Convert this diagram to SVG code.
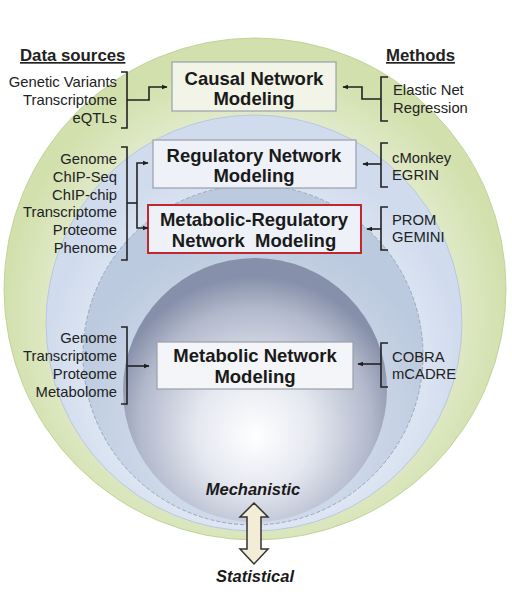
<svg xmlns="http://www.w3.org/2000/svg" width="512" height="600" viewBox="0 0 512 600">
<defs>
<radialGradient id="gGreen" cx="0.5" cy="0.55" r="0.5">
<stop offset="0.7" stop-color="#e7eed5"/>
<stop offset="1" stop-color="#d2e0ad"/>
</radialGradient>
<radialGradient id="gBlue1" cx="0.5" cy="0.6" r="0.5">
<stop offset="0.6" stop-color="#e8eef6"/>
<stop offset="1" stop-color="#d0dbed"/>
</radialGradient>
<radialGradient id="gBlue2" cx="0.5" cy="0.7" r="0.55">
<stop offset="0.3" stop-color="#d9e2ef"/>
<stop offset="1" stop-color="#bccadf"/>
</radialGradient>
<radialGradient id="gSphere" cx="0.5" cy="0.62" r="0.55" fx="0.5" fy="0.68">
<stop offset="0" stop-color="#ffffff"/>
<stop offset="0.4" stop-color="#e5e8f0"/>
<stop offset="0.8" stop-color="#b2b9cc"/>
<stop offset="1" stop-color="#8790aa"/>
</radialGradient>
<marker id="ah" viewBox="0 0 10 10" refX="9" refY="5" markerWidth="6" markerHeight="6" markerUnits="userSpaceOnUse" orient="auto">
<path d="M0,1 L10,5 L0,9 Z" fill="#1e1e1e"/>
</marker>
</defs>
<style>
.t{font-family:"Liberation Sans",Arial,sans-serif;font-size:14.8px;fill:#222;}
.r{text-anchor:end;}
.h{font-family:"Liberation Sans",Arial,sans-serif;font-size:16.8px;font-weight:bold;fill:#222;text-decoration:underline;}
.b{font-family:"Liberation Sans",Arial,sans-serif;font-size:18.5px;font-weight:bold;fill:#1a1a1a;text-anchor:middle;}
.i{font-family:"Liberation Sans",Arial,sans-serif;font-size:16.5px;font-weight:bold;font-style:italic;fill:#1a1a1a;text-anchor:middle;}
.br{fill:none;stroke:#222;stroke-width:1.6;}
.c{fill:none;stroke:#222;stroke-width:1.6;marker-end:url(#ah);}
.box{stroke:#9a9fa8;stroke-width:1.2;}
</style>
<rect width="512" height="600" fill="#ffffff"/>
<g id="layers">
<circle cx="255" cy="289" r="251" fill="url(#gGreen)" stroke="#c3d49c" stroke-width="1"/>
<circle cx="254" cy="323" r="208" fill="url(#gBlue1)" stroke="#b8c8df" stroke-width="1"/>
<circle cx="253" cy="355" r="170" fill="url(#gBlue2)" stroke="#9aa8be" stroke-width="1" stroke-dasharray="4 2"/>
<circle cx="255" cy="390" r="132" fill="url(#gSphere)"/>
</g>
<g id="headers">
<text class="h" x="20" y="61">Data sources</text>
<text class="h" x="386" y="61">Methods</text>
</g>
<g id="causal">
<rect class="box" x="172" y="62" width="164" height="49" fill="#f1f4e6"/>
<text class="b" x="254" y="85">Causal Network</text>
<text class="b" x="254" y="105">Modeling</text>
</g>
<g id="regulatory">
<rect class="box" x="153" y="140" width="203" height="48" fill="#eef2f8"/>
<text class="b" x="254" y="162">Regulatory Network</text>
<text class="b" x="254" y="182">Modeling</text>
</g>
<g id="metabolic-regulatory">
<rect x="148" y="205" width="213" height="48" fill="#eef2f8" stroke="#c1272d" stroke-width="2"/>
<text class="b" x="254" y="226">Metabolic-Regulatory</text>
<text class="b" x="254" y="247" xml:space="preserve">Network  Modeling</text>
</g>
<g id="metabolic">
<rect class="box" x="157" y="342" width="196" height="47" fill="#f4f5f8"/>
<text class="b" x="255" y="362">Metabolic Network</text>
<text class="b" x="255" y="383">Modeling</text>
</g>
<g id="sources-causal">
<text class="t r" x="117" y="87">Genetic Variants</text>
<text class="t r" x="117" y="105">Transcriptome</text>
<text class="t r" x="117" y="123">eQTLs</text>
</g>
<g id="sources-regulatory">
<text class="t r" x="117" y="164">Genome</text>
<text class="t r" x="117" y="182">ChIP-Seq</text>
<text class="t r" x="117" y="200">ChIP-chip</text>
<text class="t r" x="117" y="217">Transcriptome</text>
<text class="t r" x="117" y="235">Proteome</text>
<text class="t r" x="117" y="253">Phenome</text>
</g>
<g id="sources-metabolic">
<text class="t r" x="117" y="343">Genome</text>
<text class="t r" x="117" y="361">Transcriptome</text>
<text class="t r" x="117" y="379">Proteome</text>
<text class="t r" x="117" y="397">Metabolome</text>
</g>
<g id="methods-causal">
<text class="t" x="393" y="95">Elastic Net</text>
<text class="t" x="393" y="113">Regression</text>
</g>
<g id="methods-regulatory">
<text class="t" x="392" y="163">cMonkey</text>
<text class="t" x="392" y="180">EGRIN</text>
</g>
<g id="methods-metreg">
<text class="t" x="392" y="225">PROM</text>
<text class="t" x="392" y="242">GEMINI</text>
</g>
<g id="methods-metabolic">
<text class="t" x="392" y="362">COBRA</text>
<text class="t" x="392" y="379">mCADRE</text>
</g>
<g id="connectors">
<path class="br" d="M121,72 H127 V128 H121"/>
<path class="c" d="M127,100 H149 V87 H167"/>
<path class="br" d="M388,77 H381 V121 H388"/>
<path class="c" d="M381,99 H362 V87 H343"/>
<path class="br" d="M121,147 H127 V260 H121"/>
<path class="br" d="M127,203 H137"/>
<path class="c" d="M137,203 V163 H148"/>
<path class="c" d="M137,203 V228 H148"/>
<path class="br" d="M388,143 H381 V187 H388"/>
<path class="c" d="M381,164 H363"/>
<path class="br" d="M388,207 H381 V250 H388"/>
<path class="c" d="M381,229 H367"/>
<path class="br" d="M121,327 H127 V404 H121"/>
<path class="c" d="M127,366 H149"/>
<path class="br" d="M388,343 H381 V387 H388"/>
<path class="c" d="M381,364 H358"/>
</g>
<g id="axis">
<path d="M254,503 L268,517 L261,517 L261,549 L268,549 L254,564 L240,549 L247,549 L247,517 L240,517 Z" fill="#f3ecd6" stroke="#333" stroke-width="1.5" stroke-linejoin="miter"/>
<text class="i" x="253" y="495">Mechanistic</text>
<text class="i" x="255" y="582">Statistical</text>
</g>
</svg>
